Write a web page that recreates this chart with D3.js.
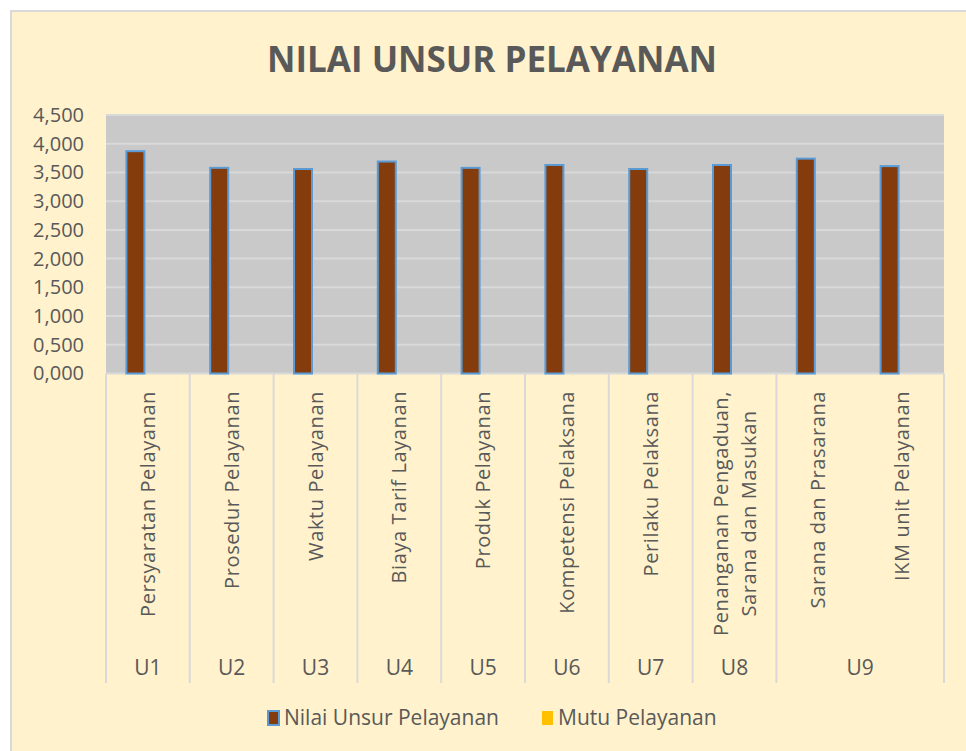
<!DOCTYPE html>
<html>
<head>
<meta charset="utf-8">
<script src="https://cdn.jsdelivr.net/npm/d3@7"></script>
<style>
  body { margin: 0; background: #ffffff; }
  text { font-family: "Open Sans", sans-serif; fill: #595959; }
</style>
</head>
<body>
<svg width="966" height="751"></svg>
<script>
// Data
const categories = [
  "Persyaratan Pelayanan",
  "Prosedur Pelayanan",
  "Waktu Pelayanan",
  "Biaya Tarif Layanan",
  "Produk Pelayanan",
  "Kompetensi Pelaksana",
  "Perilaku Pelaksana",
  "Penanganan Pengaduan, Sarana dan Masukan",
  "Sarana dan Prasarana",
  "IKM unit Pelayanan"
];
const groups = ["U1", "U2", "U3", "U4", "U5", "U6", "U7", "U8", "U9", "U9"];
const nilaiValues = [3.87, 3.58, 3.56, 3.69, 3.58, 3.63, 3.56, 3.63, 3.74, 3.61];
const mutuValues = [null, null, null, null, null, null, null, null, null, null];
const seriesNames = ["Nilai Unsur Pelayanan", "Mutu Pelayanan"];
const yTicks = [0, 0.5, 1, 1.5, 2, 2.5, 3, 3.5, 4, 4.5];

const W = 966, H = 751;
const plot = { left: 106, right: 944, top: 115, bottom: 373.5 };

const svg = d3.select("svg");

// Chart background with border
svg.append("rect")
  .attr("x", 11).attr("y", 11)
  .attr("width", W + 10).attr("height", H + 10)
  .attr("fill", "#FFF2CC")
  .attr("stroke", "#D9D9D9")
  .attr("stroke-width", 2);

// Title
svg.append("text")
  .attr("x", 492).attr("y", 72)
  .attr("text-anchor", "middle")
  .style("font-size", "35px")
  .style("font-weight", "bold")
  .text("NILAI UNSUR PELAYANAN");

// Scales
const x0 = d3.scaleBand().domain(d3.range(categories.length))
  .range([plot.left, plot.right]).padding(0);
const x1 = d3.scaleBand().domain(seriesNames)
  .range([0, x0.bandwidth()]).paddingInner(0.28).paddingOuter(0.816);
const y = d3.scaleLinear().domain([0, 4.5]).range([plot.bottom, plot.top]);

// Plot area
svg.append("rect")
  .attr("x", plot.left).attr("y", plot.top)
  .attr("width", plot.right - plot.left).attr("height", plot.bottom - plot.top)
  .attr("fill", "#C9C9C9");

// Grid lines
svg.selectAll(".grid")
  .data(yTicks)
  .enter()
  .append("line")
  .attr("class", "grid")
  .attr("x1", plot.left).attr("x2", plot.right)
  .attr("y1", (d) => y(d)).attr("y2", (d) => y(d))
  .attr("stroke", "#D9D9D9")
  .attr("stroke-width", 2);

// Y axis (labels only)
const fmt = (d) => d3.format(".3f")(d).replace(".", ",");
const yAxis = svg.append("g")
  .attr("transform", `translate(${plot.left - 22},0)`)
  .call(d3.axisLeft(y).tickValues(yTicks).tickFormat(fmt).tickSize(0).tickPadding(0));
yAxis.select(".domain").remove();
yAxis.selectAll("text")
  .style("font-size", "20px")
  .style("font-family", "'Open Sans', sans-serif")
  .attr("fill", "#595959");

// Bars
const rows = categories.map((c, i) => ({ i, values: [nilaiValues[i], mutuValues[i]] }));
const colors = { "Nilai Unsur Pelayanan": "#843C0C", "Mutu Pelayanan": "#FFC000" };

svg.selectAll(".cat")
  .data(rows)
  .enter()
  .append("g")
  .attr("class", "cat")
  .attr("transform", (d) => `translate(${x0(d.i)},0)`)
  .selectAll("rect")
  .data((d) => seriesNames.map((s, k) => ({ s, v: d.values[k] })).filter((e) => e.v != null))
  .enter()
  .append("rect")
  .attr("x", (d) => x1(d.s))
  .attr("width", x1.bandwidth())
  .attr("y", (d) => y(d.v))
  .attr("height", (d) => y(0) - y(d.v))
  .attr("fill", (d) => colors[d.s])
  .attr("stroke", "#5B9BD5")
  .attr("stroke-width", 2);

// Category label dividers
const labelBottom = 683;
const groupSpans = [];
groups.forEach((g, i) => {
  const last = groupSpans[groupSpans.length - 1];
  if (last && last.name === g) last.end = i;
  else groupSpans.push({ name: g, start: i, end: i });
});
const boundaries = [0].concat(groupSpans.map((g) => g.end + 1));
svg.selectAll(".divider")
  .data(boundaries)
  .enter()
  .append("line")
  .attr("class", "divider")
  .attr("x1", (d) => (d < categories.length ? x0(d) : plot.right))
  .attr("x2", (d) => (d < categories.length ? x0(d) : plot.right))
  .attr("y1", plot.bottom)
  .attr("y2", labelBottom)
  .attr("stroke", "#D9D9D9")
  .attr("stroke-width", 2);

// Rotated category labels
const labelTop = 391;
categories.forEach((c, i) => {
  const cx = x0(i) + x0.bandwidth() / 2;
  const lines = c.indexOf(", ") > 0 ? [c.split(", ")[0] + ",", c.split(", ")[1]] : [c];
  const g = svg.append("g").attr("transform", `translate(${cx},${labelTop}) rotate(-90)`);
  const t = g.append("text")
    .style("font-size", "20px")
    .style("letter-spacing", "0.6px")
    .attr("text-anchor", lines.length > 1 ? "middle" : "end");
  lines.forEach((l, k) => {
    t.append("tspan")
      .attr("x", 0)
      .attr("y", (k - (lines.length - 1) / 2) * 28)
      .attr("dy", "0.35em")
      .text(l);
  });
  if (lines.length > 1) {
    const len = d3.max(t.selectAll("tspan").nodes(), (n) => n.getComputedTextLength());
    t.selectAll("tspan").attr("x", -len / 2);
  }
});

// Group labels
svg.selectAll(".group")
  .data(groupSpans)
  .enter()
  .append("text")
  .attr("class", "group")
  .attr("x", (d) => (x0(d.start) + x0(d.end) + x0.bandwidth()) / 2)
  .attr("y", 668)
  .attr("dy", "0.35em")
  .attr("text-anchor", "middle")
  .style("font-size", "21px")
  .text((d) => d.name);

// Legend
const legendX = [268, 542];
const legend = svg.selectAll(".legend")
  .data(seriesNames)
  .enter()
  .append("g")
  .attr("class", "legend")
  .attr("transform", (d, i) => `translate(${legendX[i]},718)`);
legend.append("rect")
  .attr("x", 0).attr("y", -7)
  .attr("width", 11).attr("height", 14)
  .attr("fill", (d) => colors[d])
  .attr("stroke", (d, i) => (i === 0 ? "#5B9BD5" : "none"))
  .attr("stroke-width", 2);
legend.append("text")
  .attr("x", 16).attr("y", 0)
  .attr("dy", "0.35em")
  .style("font-size", "21px")
  .text((d) => d);
</script>
</body>
</html>
